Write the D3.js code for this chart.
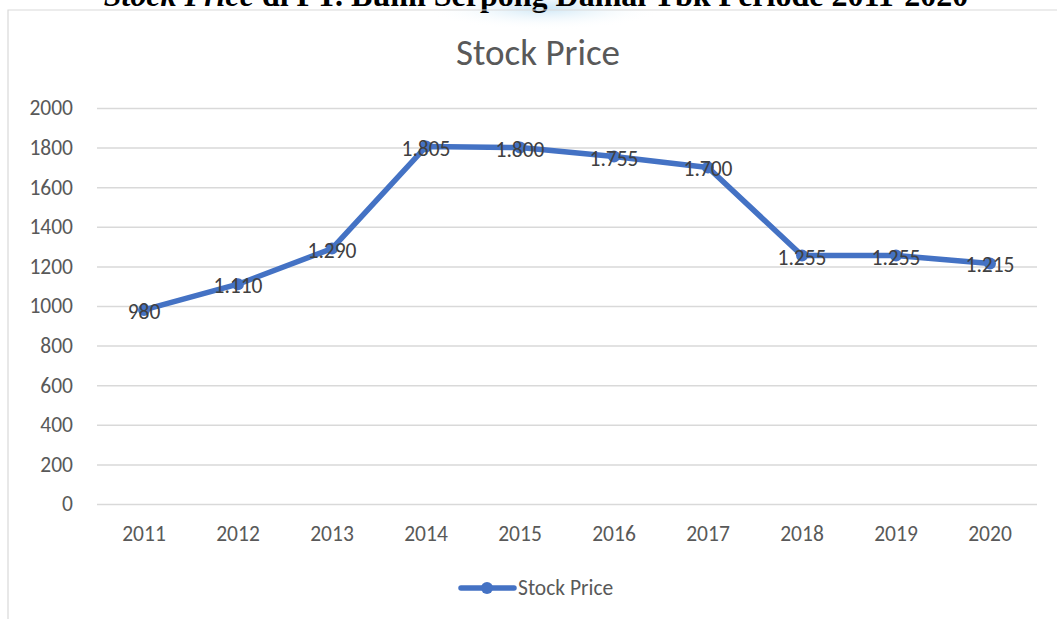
<!DOCTYPE html>
<html>
<head>
<meta charset="utf-8">
<script src="https://cdn.jsdelivr.net/npm/d3@7"></script>
<style>
  html, body { margin: 0; padding: 0; background: #fff; }
  svg { display: block; }
</style>
</head>
<body>
<svg id="chart" width="1057" height="619"></svg>
<script>
const categories = ["2011","2012","2013","2014","2015","2016","2017","2018","2019","2020"];
const stockPrice = [980, 1110, 1290, 1805, 1800, 1755, 1700, 1255, 1255, 1215];
const yTicks = [0, 200, 400, 600, 800, 1000, 1200, 1400, 1600, 1800, 2000];
const seriesName = "Stock Price";
const chartTitle = "Stock Price";
const pageHeading = "Stock Price di PT. Bumi Serpong Damai Tbk Periode 2011-2020";

const svg = d3.select("#chart");
const W = 1057, H = 619;
const font = "Carlito, Lato, 'Open Sans', sans-serif";
const blue = "#4472C4";
const grey = "#595959";
const fs = 21.5;

// faint watermark blob at top
const defs = svg.append("defs");
const rg = defs.append("radialGradient").attr("id", "wm");
rg.append("stop").attr("offset", "0%").attr("stop-color", "#bfe0f3").attr("stop-opacity", 0.8);
rg.append("stop").attr("offset", "100%").attr("stop-color", "#ffffff").attr("stop-opacity", 0);
svg.append("ellipse").attr("cx", 545).attr("cy", 8).attr("rx", 120).attr("ry", 22).attr("fill", "url(#wm)");

// cut-off page heading (as in the reference)
const heading = svg.append("text")
  .attr("x", 536).attr("y", 6)
  .attr("text-anchor", "middle")
  .attr("font-family", "'Liberation Serif', 'Times New Roman', serif")
  .attr("font-weight", "bold")
  .attr("font-size", 32)
  .attr("fill", "#000");
heading.append("tspan").attr("font-style", "italic").text("Stock Price");
heading.append("tspan").text(pageHeading.replace("Stock Price", ""));

// chart frame
svg.append("path")
  .attr("d", `M8,${H} L8,10 L${W},10`)
  .attr("fill", "none").attr("stroke", "#d9d9d9").attr("stroke-width", 1.2);

const margin = { left: 97, right: 1037, top: 108, bottom: 504 };
const x = d3.scaleBand().domain(categories).range([margin.left, margin.right]);
const y = d3.scaleLinear().domain([0, 2000]).range([margin.bottom, margin.top]);

// chart title
svg.append("text")
  .attr("x", 538).attr("y", 65)
  .attr("text-anchor", "middle")
  .attr("font-family", font).attr("font-size", 37)
  .attr("fill", grey).text(chartTitle);

// gridlines + y axis
const yAxis = d3.axisLeft(y).tickValues(yTicks).tickFormat(d3.format("d"))
  .tickSize(-(margin.right - margin.left)).tickPadding(24);
const gy = svg.append("g").attr("transform", `translate(${margin.left},0)`).call(yAxis);
gy.select(".domain").remove();
gy.selectAll(".tick line").attr("stroke", "#d9d9d9").attr("stroke-width", 1.5);
gy.selectAll(".tick text").attr("font-family", font).attr("font-size", fs).attr("fill", grey);

// x axis
const xAxis = d3.axisBottom(x).tickSize(0).tickPadding(22);
const gx = svg.append("g").attr("transform", `translate(0,${margin.bottom})`).call(xAxis);
gx.select(".domain").remove();
gx.selectAll(".tick text").attr("font-family", font).attr("font-size", fs).attr("fill", grey);

const data = categories.map((c, i) => ({ c, v: stockPrice[i] }));
const cx = d => x(d.c) + x.bandwidth() / 2;

svg.append("path").datum(data)
  .attr("d", d3.line().x(cx).y(d => y(d.v)))
  .attr("fill", "none").attr("stroke", blue).attr("stroke-width", 5.5)
  .attr("stroke-linejoin", "round").attr("stroke-linecap", "round");

svg.selectAll("circle.pt").data(data).join("circle")
  .attr("class", "pt")
  .attr("cx", cx).attr("cy", d => y(d.v)).attr("r", 6)
  .attr("fill", blue);

const loc = d3.formatLocale({ decimal: ",", thousands: ".", grouping: [3], currency: ["", ""] });
const fmt = loc.format(",d");

svg.selectAll("text.lbl").data(data).join("text")
  .attr("class", "lbl")
  .attr("x", cx).attr("y", d => y(d.v) + 2)
  .attr("text-anchor", "middle").attr("dominant-baseline", "central")
  .attr("font-family", font).attr("font-size", fs)
  .attr("fill", "#404040").text(d => fmt(d.v));

// legend
const ly = 588;
svg.append("line").attr("x1", 461).attr("x2", 514).attr("y1", ly).attr("y2", ly)
  .attr("stroke", blue).attr("stroke-width", 5.5).attr("stroke-linecap", "round");
svg.append("circle").attr("cx", 487).attr("cy", ly).attr("r", 6).attr("fill", blue);
svg.append("text").attr("x", 518).attr("y", ly).attr("dominant-baseline", "central")
  .attr("font-family", font).attr("font-size", fs).attr("fill", grey).text(seriesName);
</script>
</body>
</html>
